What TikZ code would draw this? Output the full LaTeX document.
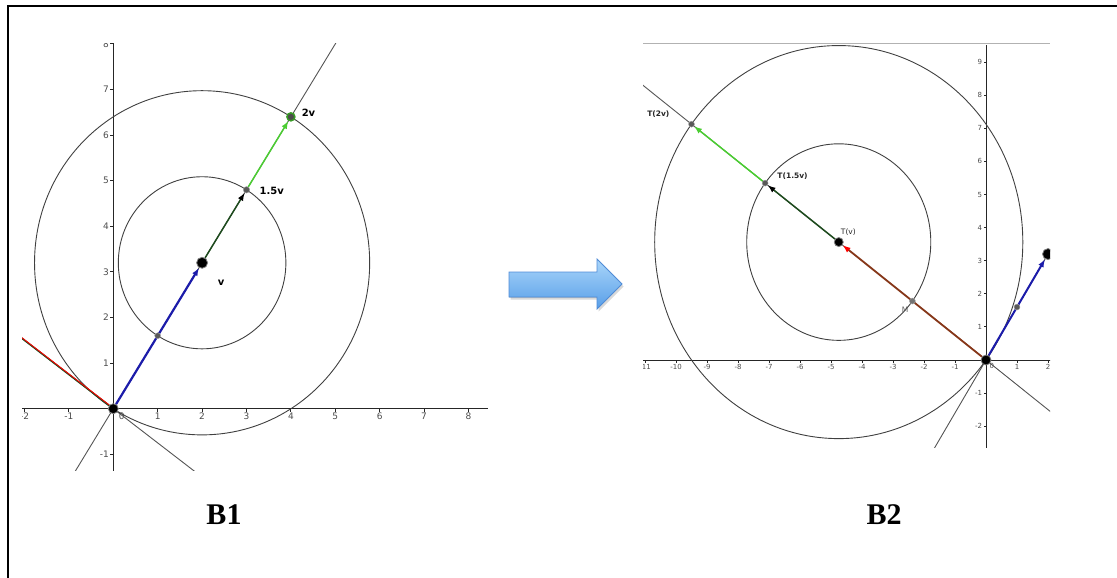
\documentclass[tikz,border=0pt]{standalone}
\usepackage{fontspec}
\setmainfont{Liberation Serif}
\setsansfont{DejaVu Sans}
\usetikzlibrary{arrows.meta,shadows}
\definecolor{vblue}{RGB}{28,28,170}
\definecolor{vdark}{RGB}{30,75,30}
\definecolor{vlight}{RGB}{75,205,50}
\definecolor{vbrown}{RGB}{135,55,25}
\definecolor{ggray}{RGB}{85,85,85}
\definecolor{arrtop}{RGB}{170,214,250}
\definecolor{arrbot}{RGB}{88,158,232}
\definecolor{arredge}{RGB}{80,140,215}

\begin{document}
\begin{tikzpicture}[x=1pt,y=-1pt,
    axis/.style={black!85,line width=0.9pt},
    circ/.style={black!75,line width=0.9pt},
    gline/.style={ggray,line width=0.9pt},
    bigdot/.style={circle,fill=black,draw=black!50,line width=0.8pt,inner sep=0pt,minimum size=10pt},
    smalldot/.style={circle,fill=black!65,draw=black!35,line width=0.4pt,inner sep=0pt,minimum size=6pt},
    ticklbl/.style={font=\sffamily\fontsize{9}{10}\selectfont,text=black!70,inner sep=1pt},
    smalltick/.style={font=\sffamily\fontsize{7}{8}\selectfont,text=black!70,inner sep=1pt},
    ptlbl/.style={font=\sffamily\bfseries\fontsize{10}{11}\selectfont,inner sep=0pt},
    tlbl/.style={font=\sffamily\bfseries\fontsize{7.5}{8}\selectfont,text=black!85,inner sep=0pt},
    vec/.style={line width=1.5pt,-{Latex[length=8pt,width=6pt]}},
    title/.style={font=\bfseries\fontsize{30}{34}\selectfont}]
  \useasboundingbox (0,0) rectangle (1117,578);
  \draw[line width=2pt] (7.7,578) -- (7.7,6) -- (1117,6);

  \begin{scope}
    \clip (22,44) rectangle (488,470);
    \begin{scope}[shift={(113.3,408.7)},x=44.4pt,y=45.6pt]
      \coordinate (xa) at (-2.2,0);
      \coordinate (xb) at (8.45,0);
      \coordinate (ya) at (0,-1.45);
      \coordinate (yb) at (0,8.1);
      \draw[axis] (xa) -- (xb);
      \draw[axis] (ya) -- (yb);
      \foreach \i in {-2,-1,1,2,3,4,5,6,7,8}
        \draw[axis] (\i,0) -- ++(0,-3pt) node[ticklbl,anchor=north] (bx\i) {\i};
      \foreach \i in {-1,1,2,3,4,5,6,7,8}
        \draw[axis] (0,\i) -- ++(-3pt,0) node[ticklbl,anchor=east] (by\i) {\i};
      \node[ticklbl,anchor=north west] (bx0) at (0.1,-0.07) {0};
      \coordinate (la) at (-0.95,-1.52);
      \coordinate (lb) at (5.1,8.16);
      \coordinate (ma) at (-2.3,1.725);
      \coordinate (mb) at (2.0,-1.5);
      \draw[gline] (la) -- (lb);
      \draw[gline] (ma) -- (mb);
      \draw[circ] (2,3.2) circle[radius=3.774];
      \draw[circ] (2,3.2) circle[radius=1.887];
      \node[bigdot] (O) at (0,0) {};
      \node[bigdot,minimum size=11pt] (V) at (2,3.2) {};
      \node[smalldot,minimum size=6.5pt] (P) at (3,4.8) {};
      \node[smalldot,minimum size=8pt,fill=black!70,draw=vlight!75!black,line width=1.5pt] (W) at (4,6.4) {};
      \draw[vdark,line width=1.6pt] (O) -- (ma);
      \draw[red,line width=0.9pt,transform canvas={yshift=0.6pt}] (O) -- (ma);
      \draw[vec,vblue,line width=2.2pt] (O) -- (V);
      \draw[vec,vdark,-{Latex[black,length=8pt,width=6pt]}] (V) -- (P);
      \draw[vec,vlight] (P) -- (W);
      \node[smalldot] (H) at (1,1.6) {};
      \node[ptlbl,anchor=west] (lw) at (4.24,6.48) {2v};
      \node[ptlbl,anchor=west] (lp) at (3.29,4.78) {1.5v};
      \node[ptlbl] (lv) at (2.43,2.77) {v};
    \end{scope}
  \end{scope}

  \filldraw[top color=arrtop,bottom color=arrbot,draw=arredge,line width=0.8pt,
    drop shadow={shadow xshift=1.5pt,shadow yshift=-2.5pt,opacity=0.3}]
    (509,272) -- (597,272) -- (597,259) -- (622,284) -- (597,309) -- (597,297) -- (509,297) -- cycle;

  \draw[black!30,line width=0.8pt] (643,43) -- (1050,43);
  \begin{scope}
    \clip (643,43) rectangle (1050,447);
    \begin{scope}[shift={(986,360)},x=31pt,y=33.1pt]
      \coordinate (xc) at (-11.2,0);
      \coordinate (xd) at (2.2,0);
      \coordinate (yc) at (0,-2.7);
      \coordinate (yd) at (0,9.52);
      \draw[axis] (xc) -- (xd);
      \draw[axis] (yc) -- (yd);
      \foreach \i in {-11,-10,-9,-8,-7,-6,-5,-4,-3,-2,-1,1,2}
        \draw[axis] (\i,0) -- ++(0,-2.5pt) node[smalltick,anchor=north] (cx\i) {\i};
      \foreach \i in {-2,-1,1,2,3,4,5,6,7,8,9}
        \draw[axis] (0,\i) -- ++(-2.5pt,0) node[smalltick,anchor=east] (cy\i) {\i};
      \node[smalltick,anchor=north west] (cx0) at (0.08,-0.06) {0};
      \coordinate (ta) at (-11.2,8.4);
      \coordinate (tb) at (2.2,-1.65);
      \coordinate (sa) at (-1.7,-2.72);
      \coordinate (sb) at (2.2,3.52);
      \draw[gline] (ta) -- (tb);
      \draw[gline] (sa) -- (sb);
      \draw[circ] (-4.75,3.5625) circle[radius=5.9375];
      \draw[circ] (-4.75,3.5625) circle[radius=2.969];
      \node[bigdot] (O2) at (0,0) {};
      \node[bigdot,minimum size=11pt] (V2) at (2,3.2) {};
      \node[bigdot,minimum size=9pt] (TV) at (-4.75,3.5625) {};
      \node[smalldot] (TP) at (-7.125,5.344) {};
      \node[smalldot] (TW) at (-9.5,7.125) {};
      \draw[vec,vblue,line width=2pt] (O2) -- (V2);
      \draw[vec,vbrown,line width=1.8pt,-{Latex[red,length=8pt,width=6pt]}] (O2) -- (TV);
      \draw[vec,vdark,-{Latex[black,length=8pt,width=6pt]}] (TV) -- (TP);
      \draw[vec,vlight] (TP) -- (TW);
      \node[smalldot] (H2) at (1,1.6) {};
      \node[smalldot,fill=black!55] (M) at (-2.375,1.781) {};
      \node[tlbl] (ltw) at (-10.57,7.42) {T(2v)};
      \node[tlbl] (ltp) at (-6.24,5.54) {T(1.5v)};
      \node[tlbl,font=\sffamily\fontsize{7.5}{8}\selectfont] (ltv) at (-4.44,3.85) {T(v)};
      \node[tlbl,font=\sffamily\fontsize{7.5}{8}\selectfont,text=black!65] (lm) at (-2.61,1.53) {M};
    \end{scope}
  \end{scope}

  \node[title] (b1) at (224,515) {B1};
  \node[title] (b2) at (884,515) {B2};
\end{tikzpicture}
\end{document}
